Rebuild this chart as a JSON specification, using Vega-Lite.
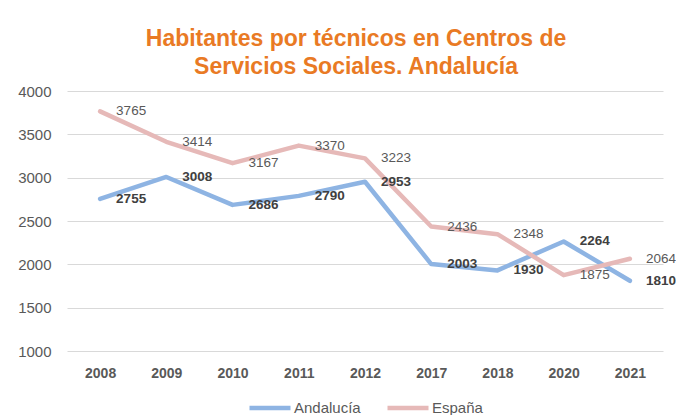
{
  "$schema": "https://vega.github.io/schema/vega-lite/v6.json",
  "width": 596,
  "height": 260,
  "autosize": {"type": "none"},
  "padding": {"left": 67, "top": 91, "right": 13, "bottom": 64},
  "background": "white",
  "title": {
    "text": ["Habitantes por técnicos en Centros de", "Servicios Sociales. Andalucía"],
    "color": "#E97A24",
    "font": "Liberation Sans",
    "fontSize": 23,
    "fontWeight": "bold",
    "lineHeight": 28,
    "anchor": "middle",
    "dx": -9,
    "offset": 5
  },
  "data": {
    "values": [
      {"year": "2008", "region": "Andalucía", "value": 2755},
      {"year": "2009", "region": "Andalucía", "value": 3008},
      {"year": "2010", "region": "Andalucía", "value": 2686},
      {"year": "2011", "region": "Andalucía", "value": 2790},
      {"year": "2012", "region": "Andalucía", "value": 2953},
      {"year": "2017", "region": "Andalucía", "value": 2003},
      {"year": "2018", "region": "Andalucía", "value": 1930},
      {"year": "2020", "region": "Andalucía", "value": 2264},
      {"year": "2021", "region": "Andalucía", "value": 1810},
      {"year": "2008", "region": "España", "value": 3765},
      {"year": "2009", "region": "España", "value": 3414},
      {"year": "2010", "region": "España", "value": 3167},
      {"year": "2011", "region": "España", "value": 3370},
      {"year": "2012", "region": "España", "value": 3223},
      {"year": "2017", "region": "España", "value": 2436},
      {"year": "2018", "region": "España", "value": 2348},
      {"year": "2020", "region": "España", "value": 1875},
      {"year": "2021", "region": "España", "value": 2064}
    ]
  },
  "encoding": {
    "x": {
      "field": "year",
      "type": "ordinal",
      "scale": {"type": "point", "padding": 0.5},
      "axis": {
        "title": null,
        "labelAngle": 0,
        "labelFont": "Liberation Sans",
        "labelFontSize": 14,
        "labelFontWeight": "bold",
        "labelColor": "#595959",
        "labelPadding": 15,
        "domain": false,
        "ticks": false,
        "grid": false
      }
    },
    "y": {
      "field": "value",
      "type": "quantitative",
      "scale": {"domain": [1000, 4000], "nice": false, "zero": false},
      "axis": {
        "title": null,
        "values": [1000, 1500, 2000, 2500, 3000, 3500, 4000],
        "format": "d",
        "labelFont": "Liberation Sans",
        "labelFontSize": 15,
        "labelColor": "#595959",
        "labelPadding": 16,
        "domain": false,
        "ticks": false,
        "grid": true,
        "gridColor": "#D9D9D9",
        "gridWidth": 1
      }
    }
  },
  "layer": [
    {
      "mark": {"type": "line", "strokeWidth": 4.5, "strokeJoin": "round", "strokeCap": "round"},
      "encoding": {
        "color": {
          "field": "region",
          "type": "nominal",
          "scale": {"domain": ["Andalucía", "España"], "range": ["#8EB4E3", "#E6B9B8"]},
          "legend": {
            "title": null,
            "orient": "none",
            "legendX": 180,
            "legendY": 294,
            "direction": "horizontal",
            "symbolType": "M-1,0H1",
            "symbolSize": 1681,
            "symbolStrokeWidth": 4.5,
            "labelFont": "Liberation Sans",
            "labelFontSize": 15,
            "labelColor": "#595959",
            "labelOffset": 1,
            "columnPadding": 17
          }
        }
      }
    },
    {
      "transform": [{"filter": "datum.region === 'Andalucía'"}],
      "mark": {"type": "text", "align": "left", "baseline": "middle", "dx": 16, "font": "Liberation Sans", "fontSize": 13.5, "fontWeight": "bold", "color": "#404040"},
      "encoding": {"text": {"field": "value", "type": "quantitative"}}
    },
    {
      "transform": [{"filter": "datum.region === 'España'"}],
      "mark": {"type": "text", "align": "left", "baseline": "middle", "dx": 16, "font": "Liberation Sans", "fontSize": 13.5, "color": "#595959"},
      "encoding": {"text": {"field": "value", "type": "quantitative"}}
    }
  ],
  "config": {"view": {"stroke": null}}
}
